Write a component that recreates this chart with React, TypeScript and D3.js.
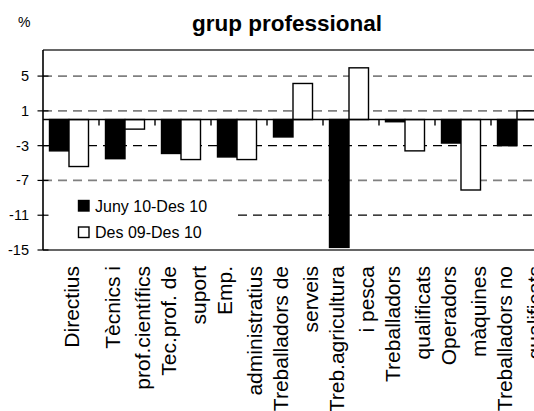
import React from "react";
import * as d3 from "d3";

const categories: string[][] = [
  ["Directius"],
  ["Tècnics i", "prof.científics"],
  ["Tec.prof. de", "suport"],
  ["Emp.", "administratius"],
  ["Treballadors de", "serveis"],
  ["Treb.agricultura", "i pesca"],
  ["Treballadors", "qualificats"],
  ["Operadors", "màquines"],
  ["Treballadors no", "qualificats"],
];
const seriesNames = ["Juny 10-Des 10", "Des 09-Des 10"];
const juny10Des10 = [-3.6, -4.5, -3.9, -4.3, -2.0, -14.7, -0.25, -2.7, -3.0];
const des09Des10 = [-5.4, -1.1, -4.6, -4.6, 4.15, 5.95, -3.6, -8.1, 1.0];
const yTicks = [5, 1, -3, -7, -11, -15];
const gridDark = [-3, -11];

const W = 534;
const H = 411;
const FONT = "'Liberation Sans', Arial, sans-serif";

export default function App() {
  const left = 43;
  const right = 547;
  const top = 50;
  const bottom = 250;
  const y = d3.scaleLinear().domain([-15, 8]).range([bottom, top]);
  const keys = categories.map((c) => c.join(" "));
  const x0 = d3.scaleBand<string>().domain(keys).range([left, right]).padding(0);
  const x1 = d3.scaleBand<string>().domain(seriesNames).range([6.5, 45.5]).padding(0);
  const series = [juny10Des10, des09Des10];
  const fills = ["#000", "#fff"];
  const y0 = y(0);

  return (
    <svg
      width={W}
      height={H}
      style={{ position: "absolute", left: 0, top: 0, background: "#fff" }}
      fontFamily={FONT}
    >
      <rect x={0} y={0} width={W} height={H} fill="#fff" />
      <text x={287} y={30.5} textAnchor="middle" fontSize={22.5} fontWeight="bold">
        grup professional
      </text>
      <text x={18} y={26.5} fontSize={14}>%</text>

      {/* gridlines */}
      {yTicks.filter((t) => t !== -15).map((t) => {
        const dark = gridDark.includes(t);
        return (
          <line
            key={"g" + t}
            x1={left}
            x2={W}
            y1={y(t)}
            y2={y(t)}
            stroke={dark ? "#000" : "#808080"}
            strokeWidth={dark ? 1.2 : 1.8}
            strokeDasharray="9,6"
          />
        );
      })}

      {/* plot frame */}
      <line x1={left} x2={W} y1={top} y2={top} stroke="#333" strokeWidth={1.6} />
      <line x1={left} x2={W} y1={bottom} y2={bottom} stroke="#333" strokeWidth={1.6} />

      {/* legend box */}
      <rect x={44} y={193} width={188} height={55} fill="#fff" />
      {seriesNames.map((s, i) => (
        <g key={s}>
          <rect
            x={78.5}
            y={200.5 + i * 26.5}
            width={10.5}
            height={10.5}
            fill={fills[i]}
            stroke="#000"
            strokeWidth={1.4}
          />
          <text x={95} y={211.5 + i * 26.5} fontSize={16}>
            {s}
          </text>
        </g>
      ))}

      {/* bars */}
      {series.map((vals, si) =>
        vals.map((v, ci) => {
          const bx = (x0(keys[ci]) as number) + (x1(seriesNames[si]) as number);
          const yt = Math.min(y(v), y0);
          const h = Math.abs(y(v) - y0);
          return (
            <rect
              key={`b${si}-${ci}`}
              x={bx}
              y={yt}
              width={x1.bandwidth()}
              height={h}
              fill={fills[si]}
              stroke="#000"
              strokeWidth={1.4}
            />
          );
        })
      )}

      {/* zero axis */}
      <line x1={left} x2={W} y1={y0} y2={y0} stroke="#000" strokeWidth={1.6} />
      {keys.map((k, i) =>
        i === 0 ? null : (
          <line
            key={"t" + k}
            x1={x0(k) as number}
            x2={x0(k) as number}
            y1={y0}
            y2={y0 + 6}
            stroke="#000"
            strokeWidth={1.4}
          />
        )
      )}
      <line x1={right} x2={right} y1={y0} y2={y0 + 6} stroke="#000" strokeWidth={1.4} />

      {/* y axis */}
      <line x1={left} x2={left} y1={top} y2={bottom} stroke="#000" strokeWidth={1.6} />
      {yTicks.map((t) => (
        <g key={"y" + t}>
          <line x1={37.5} x2={48.5} y1={y(t)} y2={y(t)} stroke="#000" strokeWidth={1.2} />
          <text x={29} y={y(t) + 5} textAnchor="end" fontSize={14.5}>
            {t}
          </text>
        </g>
      ))}

      {/* category labels */}
      {categories.map((lines, i) => {
        const cx = (x0(keys[i]) as number) + x0.bandwidth() / 2;
        const n = lines.length;
        return (
          <g key={"c" + i} transform={`translate(${cx},266) rotate(-90)`}>
            {lines.map((l, j) => (
              <text
                key={j}
                x={0}
                y={7.5 + (j - (n - 1) / 2) * 30}
                textAnchor="end"
                fontSize={21}
              >
                {l}
              </text>
            ))}
          </g>
        );
      })}
    </svg>
  );
}
